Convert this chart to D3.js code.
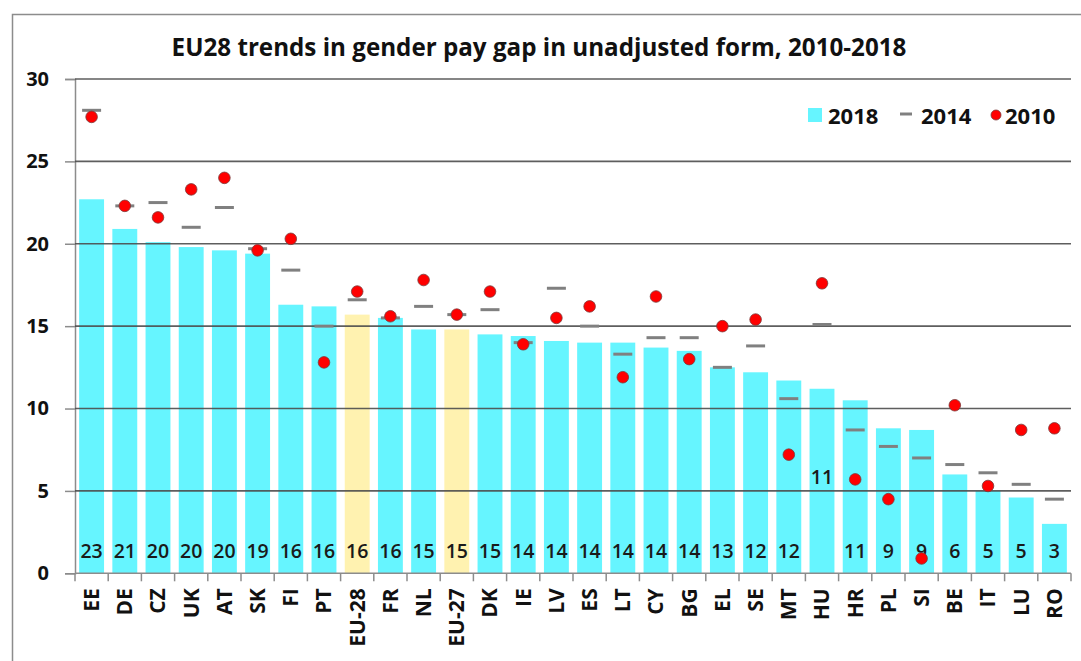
<!DOCTYPE html>
<html>
<head>
<meta charset="utf-8">
<script src="https://cdn.jsdelivr.net/npm/d3@7"></script>
<style>
  html, body { margin: 0; padding: 0; background: #ffffff; }
  svg { display: block; }
</style>
</head>
<body>
<svg id="chart" width="1081" height="661"></svg>
<script>
// ---- Data ----
const categories = ["EE","DE","CZ","UK","AT","SK","FI","PT","EU-28","FR","NL","EU-27","DK","IE","LV","ES","LT","CY","BG","EL","SE","MT","HU","HR","PL","SI","BE","IT","LU","RO"];
const values2018 = [22.7,20.9,20.1,19.8,19.6,19.4,16.3,16.2,15.7,15.5,14.8,14.8,14.5,14.4,14.1,14.0,14.0,13.7,13.5,12.5,12.2,11.7,11.2,10.5,8.8,8.7,6.0,5.0,4.6,3.0];
const values2014 = [28.1,22.3,22.5,21.0,22.2,19.7,18.4,15.0,16.6,15.5,16.2,15.7,16.0,14.0,17.3,15.0,13.3,14.3,14.3,12.5,13.8,10.6,15.1,8.7,7.7,7.0,6.6,6.1,5.4,4.5];
const values2010 = [27.7,22.3,21.6,23.3,24.0,19.6,20.3,12.8,17.1,15.6,17.8,15.7,17.1,13.9,15.5,16.2,11.9,16.8,13.0,15.0,15.4,7.2,17.6,5.7,4.5,0.9,10.2,5.3,8.7,8.8];
const aggregates = ["EU-28","EU-27"];
const yTicks = [0,5,10,15,20,25,30];
const legendLabels = ["2018","2014","2010"];
const titleText = "EU28 trends in gender pay gap in unadjusted form, 2010-2018";

// ---- Layout ----
const W = 1081, H = 661;
const plotLeft = 75, plotRight = 1071, plotTop = 79, plotBottom = 573.3;
const cyan = "#66F5FF", yellow = "#FFF2B0", dashCol = "#808080", dotCol = "#FF0000";
const font = "'Open Sans', 'Liberation Sans', sans-serif";

const svg = d3.select("#chart");
svg.append("rect").attr("width", W).attr("height", H).attr("fill", "#fff");
// outer frame
svg.append("rect").attr("x", 12.5).attr("y", 14.5).attr("width", W + 20).attr("height", H + 20)
  .attr("fill", "none").attr("stroke", "#8c8c8c").attr("stroke-width", 1.5);

const data = categories.map((c, i) => ({ cat: c, v18: values2018[i], v14: values2014[i], v10: values2010[i] }));

const x = d3.scaleBand().domain(categories).range([plotLeft, plotRight]).paddingInner(0.25).paddingOuter(0.125);
const y = d3.scaleLinear().domain([0, 30]).range([plotBottom, plotTop]);

// title
svg.append("text").attr("x", 539).attr("y", 56).attr("text-anchor", "middle")
  .attr("font-family", font).attr("font-weight", "bold").attr("font-size", 24.2)
  .attr("fill", "#111").text(titleText);

// bars
svg.append("g").selectAll("rect").data(data).join("rect")
  .attr("x", d => x(d.cat)).attr("width", x.bandwidth())
  .attr("y", d => y(d.v18)).attr("height", d => y(0) - y(d.v18))
  .attr("fill", d => aggregates.includes(d.cat) ? yellow : cyan);

// y axis
const yAxis = d3.axisLeft(y).tickValues(yTicks).tickSize(10).tickPadding(16).tickFormat(d3.format("d"));
const gy = svg.append("g").attr("transform", `translate(${plotLeft},0)`).call(yAxis);
gy.select(".domain").attr("stroke", "#8c8c8c").attr("stroke-width", 1.5);
gy.selectAll(".tick line").attr("stroke", "#8c8c8c").attr("stroke-width", 1.5);
gy.selectAll(".tick text").attr("font-family", font).attr("font-weight", "bold")
  .attr("font-size", 20).attr("fill", "#111");

// gridlines (drawn over bars like the original)
svg.append("g").selectAll("line").data(yTicks.filter(t => t > 0)).join("line")
  .attr("x1", plotLeft).attr("x2", plotRight).attr("y1", d => y(d)).attr("y2", d => y(d))
  .attr("stroke", "#4d4d4d").attr("stroke-opacity", 0.9).attr("stroke-width", 1.6);

// x axis
const xAxis = d3.axisBottom(x).tickSize(0).tickPadding(0);
const gx = svg.append("g").attr("transform", `translate(0,${plotBottom})`).call(xAxis);
gx.select(".domain").remove();
gx.append("line").attr("x1", plotLeft).attr("x2", plotRight).attr("stroke", "#8c8c8c").attr("stroke-width", 1.5);
const boundaries = categories.map(c => x(c) - x.step() * x.paddingInner() / 2).concat([plotRight]);
gx.selectAll(".bnd").data(boundaries).join("line").attr("class", "bnd")
  .attr("x1", d => d).attr("x2", d => d).attr("y1", 0).attr("y2", 8)
  .attr("stroke", "#8c8c8c").attr("stroke-width", 1.5);
gx.selectAll(".tick text")
  .attr("font-family", font).attr("font-weight", "bold").attr("font-size", 21).attr("fill", "#111")
  .attr("text-anchor", "end").attr("dy", "0.35em")
  .attr("transform", "translate(0,15) rotate(-90)");

// value labels
const raised = ["HU"];
svg.append("g").selectAll("text").data(data).join("text")
  .attr("x", d => x(d.cat) + x.bandwidth() / 2)
  .attr("y", d => raised.includes(d.cat) ? y(5.85) : y(1.35))
  .attr("dy", "0.36em").attr("text-anchor", "middle")
  .attr("font-family", font).attr("font-weight", 600).attr("font-size", 19.5).attr("fill", "#1a1a1a")
  .text(d => Math.round(d.v18));

// 2014 dashes
svg.append("g").selectAll("line").data(data).join("line")
  .attr("x1", d => x(d.cat) + x.bandwidth() / 2 - 9.5)
  .attr("x2", d => x(d.cat) + x.bandwidth() / 2 + 9.5)
  .attr("y1", d => y(d.v14)).attr("y2", d => y(d.v14))
  .attr("stroke", dashCol).attr("stroke-width", 3);

// 2010 dots
svg.append("g").selectAll("circle").data(data).join("circle")
  .attr("cx", d => x(d.cat) + x.bandwidth() / 2).attr("cy", d => y(d.v10)).attr("r", 5.8)
  .attr("fill", dotCol).attr("stroke", "#7a3a3a").attr("stroke-width", 0.8);

// legend
const lg = svg.append("g").attr("font-family", font).attr("font-weight", "bold").attr("font-size", 22).attr("fill", "#111");
lg.append("rect").attr("x", 808).attr("y", 108).attr("width", 14).attr("height", 14).attr("fill", cyan);
lg.append("text").attr("x", 828).attr("y", 124).text(legendLabels[0]);
lg.append("line").attr("x1", 900).attr("x2", 912).attr("y1", 114).attr("y2", 114).attr("stroke", dashCol).attr("stroke-width", 3);
lg.append("text").attr("x", 921).attr("y", 124).text(legendLabels[1]);
lg.append("circle").attr("cx", 996).attr("cy", 115).attr("r", 5).attr("fill", dotCol).attr("stroke", "#7a3a3a").attr("stroke-width", 0.8);
lg.append("text").attr("x", 1005).attr("y", 124).text(legendLabels[2]);
</script>
</body>
</html>
